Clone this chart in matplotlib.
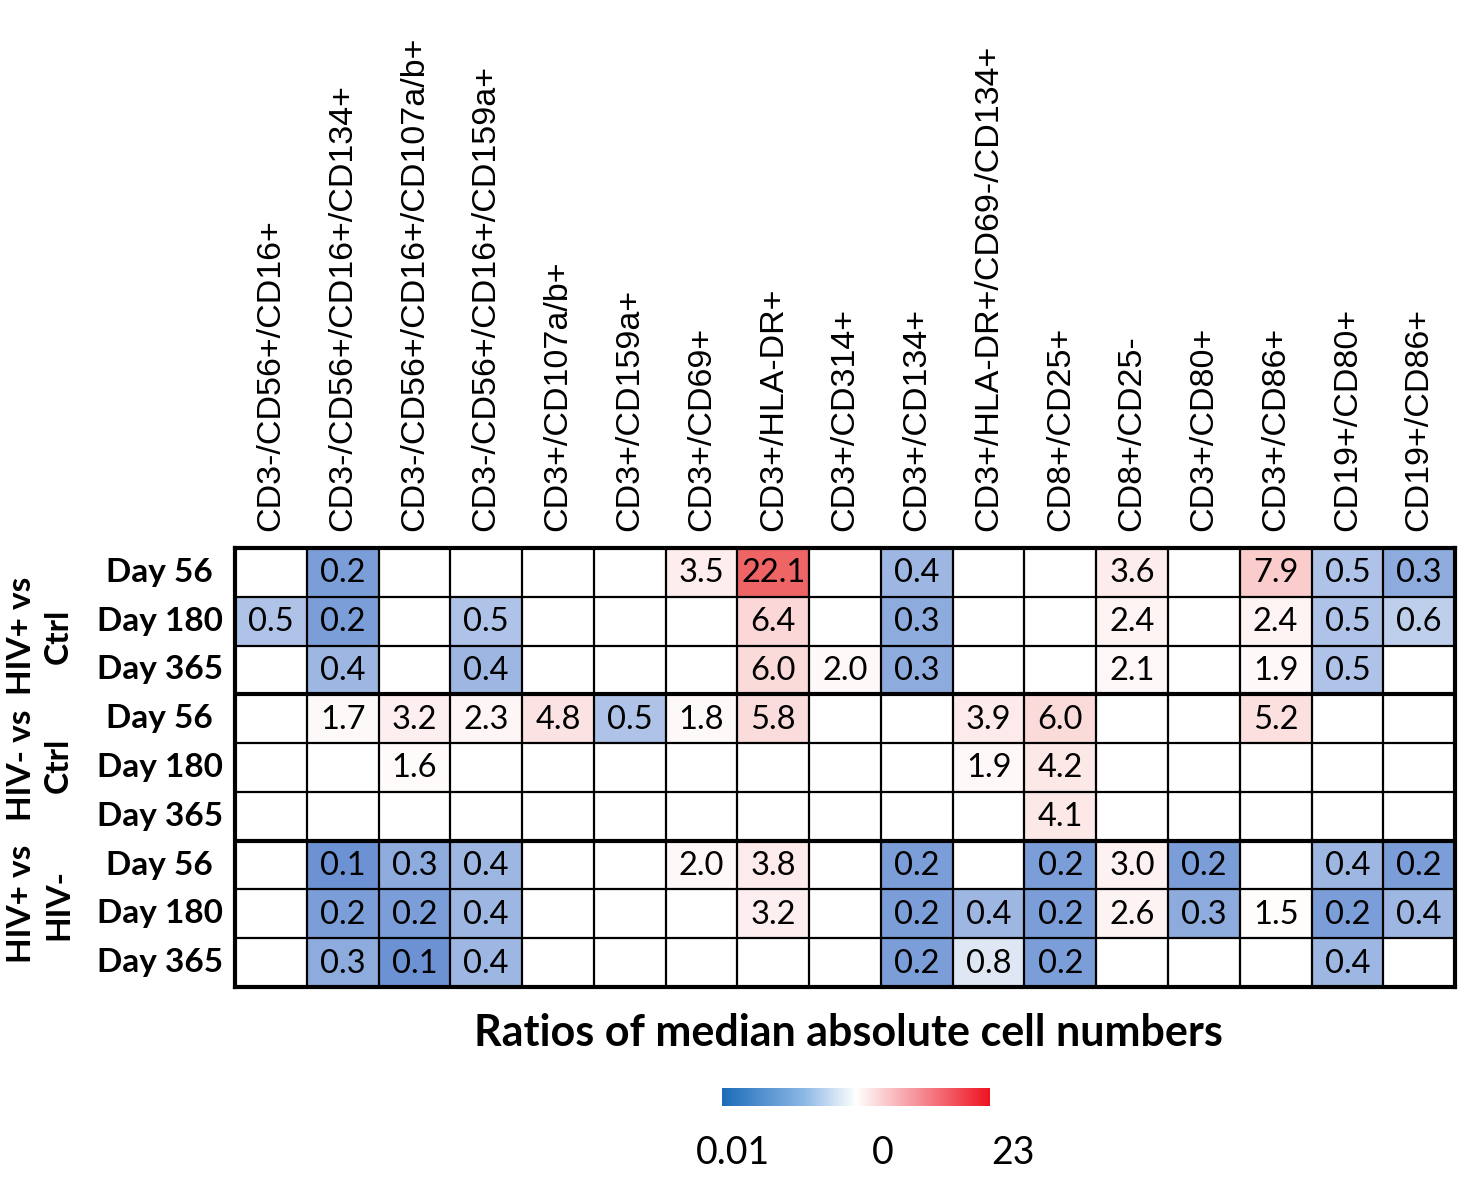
import numpy as np
import matplotlib
matplotlib.use("Agg")
import matplotlib.pyplot as plt
from matplotlib.colors import LinearSegmentedColormap, TwoSlopeNorm

# column headers (cell populations)
markers = [
    "CD3-/CD56+/CD16+",
    "CD3-/CD56+/CD16+/CD134+",
    "CD3-/CD56+/CD16+/CD107a/b+",
    "CD3-/CD56+/CD16+/CD159a+",
    "CD3+/CD107a/b+",
    "CD3+/CD159a+",
    "CD3+/CD69+",
    "CD3+/HLA-DR+",
    "CD3+/CD314+",
    "CD3+/CD134+",
    "CD3+/HLA-DR+/CD69-/CD134+",
    "CD8+/CD25+",
    "CD8+/CD25-",
    "CD3+/CD80+",
    "CD3+/CD86+",
    "CD19+/CD80+",
    "CD19+/CD86+",
]

days = ["Day 56", "Day 180", "Day 365"]
groups = ["HIV+ vs\nCtrl", "HIV- vs\nCtrl", "HIV+ vs\nHIV-"]

n = np.nan
# ratios, one list per row (nan = empty cell)
hivpos_ctrl_d56 = [n, 0.2, n, n, n, n, 3.5, 22.1, n, 0.4, n, n, 3.6, n, 7.9, 0.5, 0.3]
hivpos_ctrl_d180 = [0.5, 0.2, n, 0.5, n, n, n, 6.4, n, 0.3, n, n, 2.4, n, 2.4, 0.5, 0.6]
hivpos_ctrl_d365 = [n, 0.4, n, 0.4, n, n, n, 6.0, 2.0, 0.3, n, n, 2.1, n, 1.9, 0.5, n]
hivneg_ctrl_d56 = [n, 1.7, 3.2, 2.3, 4.8, 0.5, 1.8, 5.8, n, n, 3.9, 6.0, n, n, 5.2, n, n]
hivneg_ctrl_d180 = [n, n, 1.6, n, n, n, n, n, n, n, 1.9, 4.2, n, n, n, n, n]
hivneg_ctrl_d365 = [n, n, n, n, n, n, n, n, n, n, n, 4.1, n, n, n, n, n]
hivpos_neg_d56 = [n, 0.1, 0.3, 0.4, n, n, 2.0, 3.8, n, 0.2, n, 0.2, 3.0, 0.2, n, 0.4, 0.2]
hivpos_neg_d180 = [n, 0.2, 0.2, 0.4, n, n, n, 3.2, n, 0.2, 0.4, 0.2, 2.6, 0.3, 1.5, 0.2, 0.4]
hivpos_neg_d365 = [n, 0.3, 0.1, 0.4, n, n, n, n, n, 0.2, 0.8, 0.2, n, n, n, 0.4, n]

rows = [hivpos_ctrl_d56, hivpos_ctrl_d180, hivpos_ctrl_d365,
        hivneg_ctrl_d56, hivneg_ctrl_d180, hivneg_ctrl_d365,
        hivpos_neg_d56, hivpos_neg_d180, hivpos_neg_d365]

scale_min, scale_mid, scale_max = 0.01, 1.0, 23.0
scale_labels = ["0.01", "0", "23"]

data = np.array(rows, dtype=float)
nrows, ncols = data.shape

cell_cmap = LinearSegmentedColormap.from_list(
    "cells", [(0.0, "#5e88cf"), (0.5, "#ffffff"), (1.0, "#ee5f5f")])
bar_cmap = LinearSegmentedColormap.from_list(
    "bar", [(0.0, "#1c6cb9"), (0.3, "#8ab6e4"), (0.5, "#ffffff"),
            (0.7, "#f7a0a6"), (1.0, "#ee1422")])
norm = TwoSlopeNorm(vmin=scale_min, vcenter=scale_mid, vmax=scale_max)

fig = plt.figure(figsize=(14.58, 11.77), dpi=100)
ax = fig.add_axes([0.1612, 0.1614, 0.8368, 0.3730])

masked = np.ma.masked_invalid(data)
cell_cmap.set_bad("white")
ax.pcolormesh(np.arange(ncols + 1), np.arange(nrows + 1), masked,
              cmap=cell_cmap, norm=norm)
ax.set_xlim(0, ncols)
ax.set_ylim(nrows, 0)

# value labels
for i in range(nrows):
    for j in range(ncols):
        v = data[i, j]
        if not np.isnan(v):
            ax.text(j + 0.5, i + 0.52, f"{v:.1f}", ha="center", va="center",
                    fontsize=23.5, family="Lato", color="black")

# grid lines
for x in range(1, ncols):
    ax.axvline(x, color="black", lw=1.6)
for y in range(1, nrows):
    lw = 3.0 if y % 3 == 0 else 1.6
    ax.axhline(y, color="black", lw=lw)
for s in ax.spines.values():
    s.set_linewidth(3.0)

# column labels on top
ax.xaxis.tick_top()
ax.set_xticks(np.arange(ncols) + 0.5)
ax.set_xticklabels(markers, rotation=90, fontsize=24.5, family="Liberation Sans")
ax.tick_params(axis="x", length=0, pad=12)
ax.set_yticks([])

# row labels
for i in range(nrows):
    ax.text(-1.05, i + 0.5, days[i % 3], ha="center", va="center",
            fontsize=24, family="Lato", fontweight="bold", clip_on=False)

# group labels
group_y = [1.8, 4.45, 7.3]
for lab, gy in zip(groups, group_y):
    ax.text(-2.72, gy, lab, ha="center", va="center", rotation=90,
            fontsize=24, family="Lato", fontweight="bold",
            multialignment="center", linespacing=1.35, clip_on=False)

fig.text(0.582, 0.122, "Ratios of median absolute cell numbers", ha="center",
         va="center", fontsize=31, family="Lato", fontweight="bold")

# colour scale
cax = fig.add_axes([0.4952, 0.0603, 0.1838, 0.0153])
grad = np.linspace(0, 1, 256).reshape(1, -1)
cax.imshow(grad, aspect="auto", cmap=bar_cmap, extent=[0, 1, 0, 1])
cax.set_axis_off()
for xpos, lab in zip([0.04, 0.60, 1.086], scale_labels):
    cax.text(xpos, -2.6, lab, ha="center", va="center", fontsize=27,
             family="Lato", transform=cax.transAxes)

fig.savefig("out.png", dpi=100)
